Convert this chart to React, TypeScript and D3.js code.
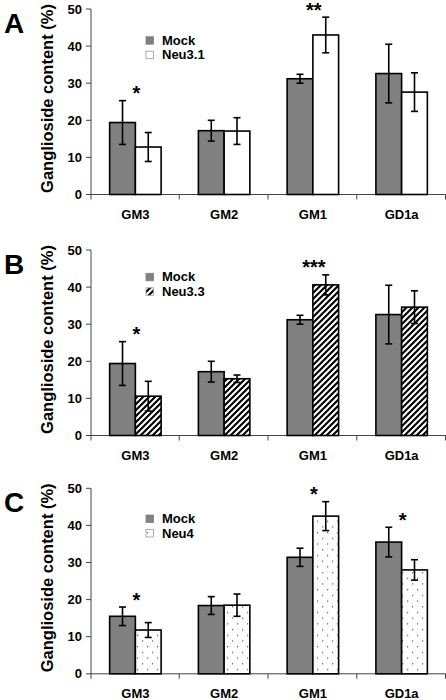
import React from "react";
import * as d3 from "d3";

const categories = ["GM3", "GM2", "GM1", "GD1a"];
const yTicks = [0, 10, 20, 30, 40, 50];

const mockMean = [19.4, 17.2, 31.2, 32.6];
const mockErr = [5.9, 2.8, 1.2, 7.9];

const neu31Mean = [12.8, 17.1, 43.0, 27.6];
const neu31Err = [3.9, 3.6, 4.8, 5.2];
const neu31Stars = ["*", "", "**", ""];

const neu33Mean = [10.6, 15.3, 40.6, 34.6];
const neu33Err = [4.0, 1.0, 2.7, 4.4];
const neu33Stars = ["*", "", "***", ""];

const mockCMean = [15.5, 18.4, 31.4, 35.5];
const mockCErr = [2.5, 2.4, 2.45, 4.0];
const neu4Mean = [11.8, 18.5, 42.5, 28.0];
const neu4Err = [2.0, 3.0, 3.9, 2.75];
const neu4Stars = ["*", "", "*", "*"];

const panels = [
  { letter: "A", name: "Neu3.1", mean: [mockMean, neu31Mean], err: [mockErr, neu31Err], stars: neu31Stars, fill: "#ffffff", top: 9, legendTop: 27.7 },
  { letter: "B", name: "Neu3.3", mean: [mockMean, neu33Mean], err: [mockErr, neu33Err], stars: neu33Stars, fill: "url(#hatch)", top: 250, legendTop: 23.3 },
  { letter: "C", name: "Neu4", mean: [mockCMean, neu4Mean], err: [mockCErr, neu4Err], stars: neu4Stars, fill: "url(#dots)", top: 488.3, legendTop: 26.7 },
];

const FONT = "'Liberation Sans', Arial, Helvetica, sans-serif";
const W = 446;
const H = 700;
const X0 = 91;
const X1 = 446;
const PLOT_H = 185.5;

function Panel({ p }: { p: (typeof panels)[number] }) {
  const y = d3.scaleLinear().domain([0, 50]).range([p.top + PLOT_H, p.top]);
  const x = d3.scaleBand<string>().domain(categories).range([X0, X1]).paddingInner(0.42).paddingOuter(0.21);
  const xs = d3.scaleBand<number>().domain([0, 1]).range([0, x.bandwidth()]);
  const step = x.step();
  const y0 = y(0);
  const fills = ["#808080", p.fill];
  const legendFills = ["#808080", p.fill];
  return (
    <g>
      <text x={4} y={p.top + 24} fontFamily={FONT} fontWeight="bold" fontSize={28} fill="#000">{p.letter}</text>
      <text transform={`translate(53,${p.top + 89.5}) rotate(-90)`} textAnchor="middle" fontFamily={FONT} fontWeight="bold" fontSize={16.5} fill="#000">Ganglioside content (%)</text>
      {/* y axis */}
      <line x1={X0} x2={X0} y1={p.top} y2={y0 + 5} stroke="#444" strokeWidth={1} />
      {yTicks.map((t) => (
        <g key={t}>
          <line x1={X0 - 5} x2={X0} y1={y(t)} y2={y(t)} stroke="#444" strokeWidth={1} />
          <text x={X0 - 9} y={y(t) + 4.5} textAnchor="end" fontFamily={FONT} fontWeight="bold" fontSize={13} fill="#000">{t}</text>
        </g>
      ))}
      {/* x axis */}
      <line x1={X0} x2={X1} y1={y0} y2={y0} stroke="#444" strokeWidth={1} />
      {categories.map((c, i) => (
        <line key={c} x1={X0 + (i + 1) * step - 0.5} x2={X0 + (i + 1) * step - 0.5} y1={y0} y2={y0 + 5} stroke="#444" strokeWidth={1} />
      ))}
      {categories.map((c) => (
        <text key={c} x={(x(c) as number) + x.bandwidth() / 2} y={y0 + 24} textAnchor="middle" fontFamily={FONT} fontWeight="bold" fontSize={13} fill="#000">{c}</text>
      ))}
      {/* bars */}
      {categories.map((c, i) =>
        [0, 1].map((s) => {
          const bx = (x(c) as number) + (xs(s) as number);
          const v = p.mean[s][i];
          return (
            <rect key={c + s} x={bx} y={y(v)} width={xs.bandwidth()} height={y0 - y(v)} fill={fills[s]} stroke="#000" strokeWidth={1.6} />
          );
        })
      )}
      {/* error bars */}
      {categories.map((c, i) =>
        [0, 1].map((s) => {
          const cx = (x(c) as number) + (xs(s) as number) + xs.bandwidth() / 2;
          const v = p.mean[s][i];
          const e = p.err[s][i];
          return (
            <g key={"e" + c + s} stroke="#000" strokeWidth={1.6}>
              <line x1={cx} x2={cx} y1={y(v + e)} y2={y(v - e)} />
              <line x1={cx - 3.5} x2={cx + 3.5} y1={y(v + e)} y2={y(v + e)} />
              <line x1={cx - 3.5} x2={cx + 3.5} y1={y(v - e)} y2={y(v - e)} />
            </g>
          );
        })
      )}
      {/* stars */}
      {categories.map((c, i) => {
        if (!p.stars[i]) return null;
        const topV = Math.max(p.mean[0][i] + p.err[0][i], p.mean[1][i] + p.err[1][i]);
        const cx = (x(c) as number) + x.bandwidth() / 2 + 1;
        return (
          <text key={"s" + c} x={cx} y={y(topV) - 12 + 11.5} textAnchor="middle" fontFamily={FONT} fontWeight="bold" fontSize={20} fill="#000">{p.stars[i]}</text>
        );
      })}
      {/* legend */}
      {["Mock", p.name].map((name, k) => {
        const ly = p.top + p.legendTop + k * 14.5;
        return (
          <g key={name}>
            <rect x={146} y={ly} width={7.5} height={7.5} fill={legendFills[k]} stroke={k === 0 ? "#808080" : "#999"} strokeWidth={0.8} />
            <text x={162} y={ly + 8} fontFamily={FONT} fontWeight="bold" fontSize={13} fill="#000">{name}</text>
          </g>
        );
      })}
    </g>
  );
}

export default function App() {
  return (
    <svg width={W} height={H} style={{ position: "absolute", left: 0, top: 0, display: "block", background: "#fff" }}>
      <defs>
        <pattern id="hatch" patternUnits="userSpaceOnUse" width={6} height={6}>
          <rect width={6} height={6} fill="#fff" />
          <path d="M0,6 L6,0 M-1.5,1.5 L1.5,-1.5 M4.5,7.5 L7.5,4.5" stroke="#000" strokeWidth={2.1} />
        </pattern>
        <pattern id="dots" patternUnits="userSpaceOnUse" width={10} height={11.4}>
          <rect width={10} height={11.4} fill="#fff" />
          <rect x={2} y={2} width={1.2} height={1.2} fill="#555" />
          <rect x={7} y={7.7} width={1.2} height={1.2} fill="#555" />
        </pattern>
      </defs>
      <rect width={W} height={H} fill="#fff" />
      {panels.map((p) => (
        <Panel key={p.letter} p={p} />
      ))}
    </svg>
  );
}
